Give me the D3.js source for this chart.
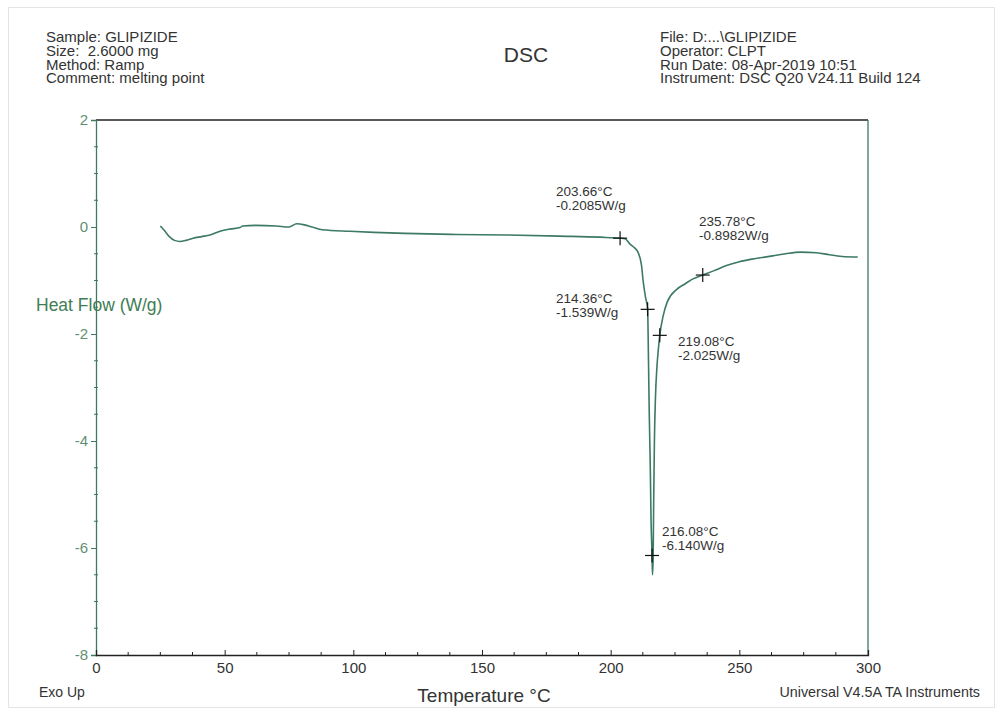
<!DOCTYPE html>
<html><head><meta charset="utf-8">
<script src="https://cdn.jsdelivr.net/npm/d3@7"></script>
<style>body{margin:0;background:#fff}svg{display:block}text{font-family:Arial,"Liberation Sans",sans-serif}</style>
</head><body>
<svg id="c" width="1003" height="715"></svg>
<script>
const temperature = [25.0,26.5,28.5,30.5,32.6,35.0,37.7,41.0,44.3,48.2,52.0,56.0,57.0,62.0,70.0,75.0,78.0,81.0,84.0,88.0,98.7,108,120,140,160,180,196,200,203.66,205.6,207.5,209.5,210.6,212.0,212.6,213.5,214.36,214.7,215.0,215.4,215.7,216.08,216.25,216.5,216.7,217.0,217.4,218.0,218.5,219.08,220.4,222.0,225.8,229.0,232.0,235.78,240.0,245.0,250.0,255.0,263.0,268.0,273.6,280.0,285.0,290.0,296.0];
const heatFlow =    [0.02,-0.06,-0.18,-0.25,-0.27,-0.25,-0.21,-0.18,-0.15,-0.08,-0.04,-0.01,0.02,0.03,0.02,0.0,0.06,0.04,0.0,-0.05,-0.08,-0.10,-0.12,-0.14,-0.15,-0.17,-0.19,-0.20,-0.2085,-0.22,-0.32,-0.40,-0.47,-0.72,-1.00,-1.30,-1.539,-2.5,-3.5,-4.5,-5.5,-6.14,-6.5,-6.2,-5.2,-4.0,-3.2,-2.6,-2.3,-2.025,-1.66,-1.40,-1.16,-1.06,-0.97,-0.8982,-0.82,-0.72,-0.65,-0.60,-0.54,-0.50,-0.47,-0.48,-0.52,-0.55,-0.56];
const markTemp = [203.66,214.36,219.08,216.08,235.78];
const markFlow = [-0.2085,-1.539,-2.025,-6.140,-0.8982];
const markLabelT = ["203.66°C","214.36°C","219.08°C","216.08°C","235.78°C"];
const markLabelF = ["-0.2085W/g","-1.539W/g","-2.025W/g","-6.140W/g","-0.8982W/g"];
const xTicks = [0,50,100,150,200,250,300];
const yTicks = [2,0,-2,-4,-6,-8];
const headerLeft = ["Sample: GLIPIZIDE","Size:  2.6000 mg","Method: Ramp","Comment: melting point"];
const headerRight = ["File: D:...\\GLIPIZIDE","Operator: CLPT","Run Date: 08-Apr-2019 10:51","Instrument: DSC Q20 V24.11 Build 124"];

const svg = d3.select("#c");
const L=96,R=868,T=120,B=655;
const x = d3.scaleLinear().domain([0,300]).range([L,R]);
const y = d3.scaleLinear().domain([-8,2]).range([B,T]);
const green="#3d7a62", lab="#5f8f72";

svg.append("rect").attr("x",8.5).attr("y",7.5).attr("width",986).attr("height",700).attr("fill","none").attr("stroke","#e4e4e4");

// header
svg.append("g").selectAll("text").data(headerLeft).join("text")
  .attr("x",46).attr("y",(d,i)=>42+i*13.8).attr("font-size",15).attr("fill","#333").attr("xml:space","preserve").text(d=>d);
svg.append("g").selectAll("text").data(headerRight).join("text")
  .attr("x",660).attr("y",(d,i)=>42+i*13.8).attr("font-size",15).attr("fill","#333").text(d=>d);
svg.append("text").attr("x",526).attr("y",62).attr("text-anchor","middle").attr("font-size",21).attr("fill","#333").text("DSC");

// frame
svg.append("line").attr("x1",L).attr("x2",R).attr("y1",T).attr("y2",T).attr("stroke","#222").attr("stroke-width",1.3);
svg.append("line").attr("x1",R).attr("x2",R).attr("y1",T).attr("y2",B).attr("stroke",green).attr("stroke-width",1.3);

// y axis
const ya = svg.append("g").attr("transform",`translate(${L},0)`)
  .call(d3.axisLeft(y).tickValues(yTicks).tickSize(5).tickFormat(d=>String(d)));
ya.select(".domain").attr("stroke",green).attr("stroke-width",1.3);
ya.selectAll(".tick line").attr("stroke",green);
ya.selectAll(".tick text").attr("fill",lab).attr("font-size",15).attr("font-family","Arial").attr("x",-8);
const yMinor = d3.range(-8,2.001,0.5).filter(v=>Math.abs(v%2)>0.01);
svg.append("g").selectAll("line").data(yMinor).join("line")
  .attr("x1",L-2).attr("x2",L+2).attr("y1",d=>y(d)).attr("y2",d=>y(d)).attr("stroke",green);

// x axis
const xa = svg.append("g").attr("transform",`translate(0,${B})`)
  .call(d3.axisBottom(x).tickValues(xTicks).tickSize(-5).tickFormat(d=>String(d)));
xa.select(".domain").attr("stroke","#222").attr("stroke-width",1.3);
xa.selectAll(".tick line").attr("stroke","#222");
xa.selectAll(".tick text").attr("fill","#333").attr("font-size",15).attr("font-family","Arial").attr("y",7);
const xMinor = d3.range(0,300.1,12.5).filter(v=>v%50!==0);
svg.append("g").selectAll("line").data(xMinor).join("line")
  .attr("x1",d=>x(d)).attr("x2",d=>x(d)).attr("y1",B).attr("y2",B-3).attr("stroke","#222");

// labels
svg.append("text").attr("x",36).attr("y",311).attr("font-size",17.5).attr("fill","#3f7d55").text("Heat Flow (W/g)");
svg.append("text").attr("x",39).attr("y",697).attr("font-size",14).attr("fill","#333").text("Exo Up");
svg.append("text").attr("x",484).attr("y",702).attr("text-anchor","middle").attr("font-size",19).attr("fill","#333").text("Temperature °C");
svg.append("text").attr("x",980).attr("y",697).attr("text-anchor","end").attr("font-size",14.3).attr("fill","#333").text("Universal V4.5A TA Instruments");

// curve
const pts = temperature.map((t,i)=>[t,heatFlow[i]]);
svg.append("path").datum(pts).attr("fill","none").attr("stroke",green).attr("stroke-width",1.6)
  .attr("d",d3.line().x(d=>x(d[0])).y(d=>y(d[1])).curve(d3.curveMonotoneX));

// markers
const mk = svg.append("g");
markTemp.forEach((t,i)=>{
  const px=x(t), py=y(markFlow[i]);
  mk.append("line").attr("x1",px-7).attr("x2",px+7).attr("y1",py).attr("y2",py).attr("stroke","#111").attr("stroke-width",1.2);
  mk.append("line").attr("x1",px).attr("x2",px).attr("y1",py-7).attr("y2",py+7).attr("stroke","#111").attr("stroke-width",1.2);
});
const labPos = [[556,196],[556,303],[678,346],[662,536],[699,226]];
labPos.forEach((p,i)=>{
  svg.append("text").attr("x",p[0]).attr("y",p[1]).attr("font-size",13.5).attr("fill","#333").text(markLabelT[i]);
  svg.append("text").attr("x",p[0]).attr("y",p[1]+13.5).attr("font-size",13.5).attr("fill","#333").text(markLabelF[i]);
});
</script>
</body></html>
